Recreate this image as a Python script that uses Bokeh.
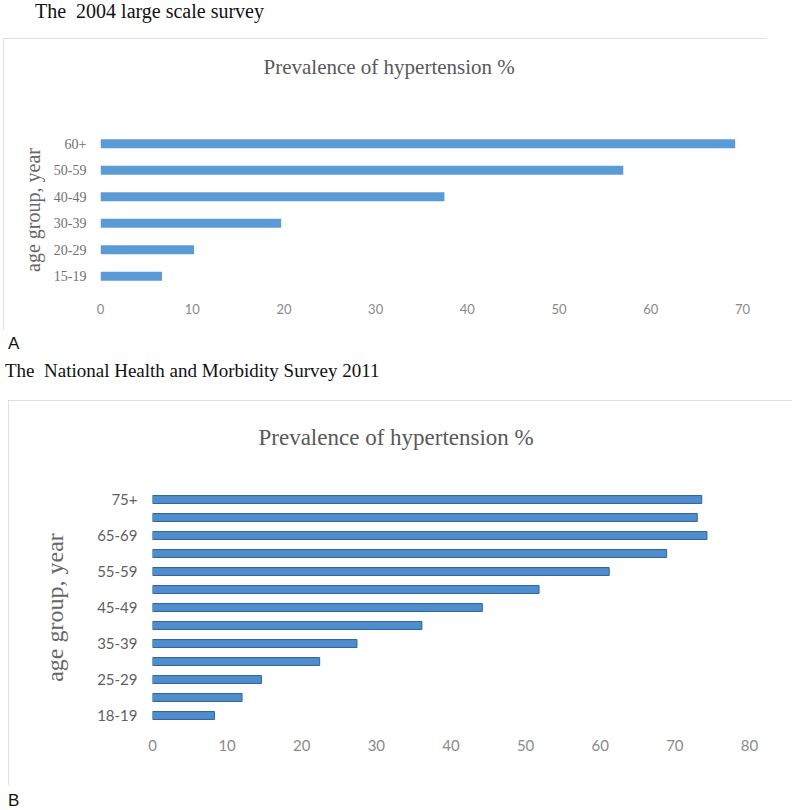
from bokeh.plotting import figure
from bokeh.models import Div, FixedTicker, Range1d, Title
from bokeh.layouts import column
from bokeh.embed import file_html
from bokeh.resources import INLINE

# ---------------- data ----------------
groups_a = ["15-19", "20-29", "30-39", "40-49", "50-59", "60+"]
prev_a = [6.7, 10.2, 19.7, 37.5, 57.0, 69.2]
xticks_a = [0, 10, 20, 30, 40, 50, 60, 70]

groups_b = ["18-19", "20-24", "25-29", "30-34", "35-39", "40-44", "45-49",
            "50-54", "55-59", "60-64", "65-69", "70-74", "75+"]
prev_b = [8.3, 12.0, 14.6, 22.4, 27.4, 36.1, 44.2, 51.8, 61.2, 68.9, 74.3, 73.0, 73.6]
shown_b = ["18-19", "25-29", "35-39", "45-49", "55-59", "65-69", "75+"]
xticks_b = [0, 10, 20, 30, 40, 50, 60, 70, 80]

title_text = "Prevalence of hypertension %"
ylabel_text = "age group, year"

SERIF = "Liberation Serif"
SANS = "Lato"


def make_chart(groups, values, shown, xticks, width, height, borders, bar_h,
               fill, line, ytick_font, ytick_size, ytick_color, ytick_standoff,
               xtick_font, xtick_size, xtick_standoff, ylab_size, ylab_standoff,
               title_size, title_offset, title_blank_lines, title_standoff, margin):
    n = len(groups)
    idx = list(range(n))
    p = figure(width=width, height=height, output_backend="svg", toolbar_location=None,
               x_range=Range1d(xticks[0], xticks[-1]), y_range=Range1d(-0.5, n - 0.5),
               min_border_left=borders[0], min_border_right=borders[1],
               min_border_top=borders[2], min_border_bottom=borders[3],
               margin=margin, frame_align=False,
               styles={"outline": "1px solid #d6d6d6", "outline-offset": "-1px"})
    p.title = None
    p.outline_line_color = None
    p.grid.visible = False
    p.background_fill_color = "white"
    p.border_fill_color = "white"
    p.hbar(y=idx, left=0, right=values, height=bar_h, fill_color=fill,
           line_color=line, line_width=1 if line else 0)

    # chart title; trailing blank lines lift it away from the plot frame
    main = Title(text=title_text + "\n" * title_blank_lines, align="left",
                 offset=title_offset, standoff=title_standoff,
                 text_font=SERIF, text_font_style="normal",
                 text_font_size=f"{title_size}px", text_color="#595959")
    p.add_layout(main, "above")

    yax = p.yaxis[0]
    yax.ticker = FixedTicker(ticks=[i for i, g in enumerate(groups) if g in shown])
    yax.major_label_overrides = {i: g for i, g in enumerate(groups)}
    yax.axis_line_color = None
    yax.major_tick_line_color = None
    yax.minor_tick_line_color = None
    yax.major_tick_out = 0
    yax.major_tick_in = 0
    yax.minor_tick_out = 0
    yax.major_label_text_font = ytick_font
    yax.major_label_text_font_size = f"{ytick_size}px"
    yax.major_label_text_color = ytick_color
    yax.major_label_standoff = ytick_standoff
    yax.axis_label = ylabel_text
    yax.axis_label_text_font = SERIF
    yax.axis_label_text_font_style = "normal"
    yax.axis_label_text_font_size = f"{ylab_size}px"
    yax.axis_label_text_color = "#666666"
    yax.axis_label_standoff = ylab_standoff

    xax = p.xaxis[0]
    xax.ticker = FixedTicker(ticks=xticks)
    xax.axis_line_color = None
    xax.major_tick_line_color = None
    xax.minor_tick_line_color = None
    xax.major_tick_out = 0
    xax.major_tick_in = 0
    xax.minor_tick_out = 0
    xax.major_label_text_font = xtick_font
    xax.major_label_text_font_size = f"{xtick_size}px"
    xax.major_label_text_color = "#8a8a8a"
    xax.major_label_standoff = xtick_standoff
    return p


pa = make_chart(groups_a, prev_a, groups_a, xticks_a, width=764, height=292,
                borders=(97, 25, 92, 41), bar_h=0.34, fill="#5b9bd5", line=None,
                ytick_font=SERIF, ytick_size=14, ytick_color="#707070", ytick_standoff=14,
                xtick_font=SANS, xtick_size=13, xtick_standoff=14,
                ylab_size=20, ylab_standoff=7, title_size=21, title_offset=163,
                title_blank_lines=2, title_standoff=8, margin=(0, 0, 0, 0))

pb = make_chart(groups_b, prev_b, shown_b, xticks_b, width=784, height=385,
                borders=(144, 43, 90, 61), bar_h=0.44, fill="#4f8dcc", line="#2f649c",
                ytick_font=SANS, ytick_size=15, ytick_color="#5f5f5f", ytick_standoff=15,
                xtick_font=SANS, xtick_size=15, xtick_standoff=15,
                ylab_size=24, ylab_standoff=26, title_size=23, title_offset=106,
                title_blank_lines=1, title_standoff=32, margin=(0, 0, 0, 5))

d1 = Div(text='<div style="position:absolute; top:-1px; left:32px; white-space:nowrap; '
              'font-family:\'Liberation Serif\'; font-size:20px; line-height:20px; color:#111;">'
              'The&nbsp; 2004 large scale survey</div>',
         width=764, height=36, margin=(0, 0, 0, 0))
d2 = Div(text='<div style="position:absolute; top:5px; left:5px; font-family:\'Liberation Sans\'; '
              'font-size:17px; line-height:17px; color:#111;">A</div>'
              '<div style="position:absolute; top:31px; left:2px; white-space:nowrap; '
              'font-family:\'Liberation Serif\'; font-size:19px; line-height:19px; color:#111;">'
              'The&nbsp; National Health and Morbidity Survey 2011</div>',
         width=764, height=70, margin=(0, 0, 0, 0))
d3 = Div(text='<div style="position:absolute; top:7px; left:5px; font-family:\'Liberation Sans\'; '
              'font-size:17px; line-height:17px; color:#111;">B</div>',
         width=764, height=17, margin=(0, 0, 0, 0))

layout = column(d1, pa, d2, pb, d3, spacing=0, margin=(2, 0, 0, 3))

open("out.html", "w").write(file_html(layout, INLINE))
